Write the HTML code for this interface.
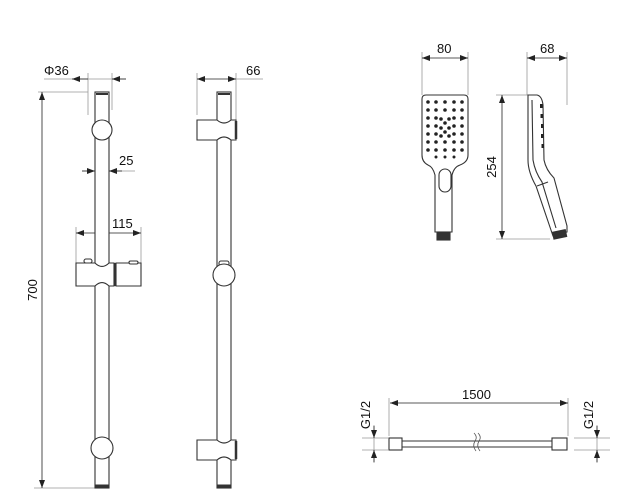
<!DOCTYPE html>
<html><head><style>
html,body{margin:0;padding:0;background:#fff;}
svg{display:block;}
text{font-family:"Liberation Sans",sans-serif;font-size:13px;fill:#111;}
</style></head><body>
<svg width="623" height="504" viewBox="0 0 623 504" xmlns="http://www.w3.org/2000/svg">
<defs>
<marker id="a" markerWidth="8" markerHeight="6" refX="8" refY="3" orient="auto-start-reverse" markerUnits="userSpaceOnUse"><path d="M0,0 L8,3 L0,6 z" fill="#222"/></marker>
</defs>
<g stroke="#999" stroke-width="0.8" fill="none">
<line x1="44" y1="79" x2="126" y2="79"/>
<line x1="88" y1="73" x2="88" y2="115"/>
<line x1="112" y1="73" x2="112" y2="110"/>
<line x1="38" y1="92" x2="88" y2="92"/>
<line x1="34" y1="488" x2="95" y2="488"/>
<line x1="82" y1="171" x2="135" y2="171"/>
<line x1="76" y1="227" x2="76" y2="265"/>
<line x1="141" y1="227" x2="141" y2="265"/>
<line x1="197" y1="73" x2="197" y2="115"/>
<line x1="236" y1="73" x2="236" y2="120"/>
<line x1="236" y1="79" x2="263" y2="79"/>
<line x1="422" y1="52" x2="422" y2="95"/>
<line x1="468" y1="52" x2="468" y2="95"/>
<line x1="527" y1="52" x2="527" y2="95"/>
<line x1="567" y1="52" x2="567" y2="105"/>
<line x1="496" y1="95" x2="530" y2="95"/>
<line x1="496" y1="239" x2="550" y2="239"/>
<line x1="389" y1="398" x2="389" y2="436"/>
<line x1="568" y1="398" x2="568" y2="436"/>
<line x1="362" y1="438" x2="388" y2="438"/>
<line x1="362" y1="450" x2="388" y2="450"/>
<line x1="574" y1="438" x2="610" y2="438"/>
<line x1="574" y1="450" x2="610" y2="450"/>
<line x1="374" y1="425" x2="374" y2="463"/>
<line x1="597" y1="425" x2="597" y2="463"/>
</g>
<g stroke="#222" stroke-width="0.8" fill="none">
<line x1="88" y1="79" x2="72" y2="79" marker-end="url(#a)"/>
<line x1="112" y1="79" x2="126" y2="79" marker-start="url(#a)" />
<line x1="42" y1="92" x2="42" y2="488" marker-start="url(#a)" marker-end="url(#a)"/>
<line x1="82" y1="171" x2="95" y2="171" marker-end="url(#a)"/>
<line x1="122" y1="171" x2="109" y2="171" marker-end="url(#a)"/>
<line x1="76" y1="233" x2="141" y2="233" marker-start="url(#a)" marker-end="url(#a)"/>
<line x1="197" y1="79" x2="236" y2="79" marker-start="url(#a)" marker-end="url(#a)"/>
<line x1="422" y1="58" x2="468" y2="58" marker-start="url(#a)" marker-end="url(#a)"/>
<line x1="527" y1="58" x2="567" y2="58" marker-start="url(#a)" marker-end="url(#a)"/>
<line x1="502" y1="95" x2="502" y2="239" marker-start="url(#a)" marker-end="url(#a)"/>
<line x1="390" y1="403" x2="568" y2="403" marker-start="url(#a)" marker-end="url(#a)"/>
<line x1="374" y1="426" x2="374" y2="438" marker-end="url(#a)"/>
<line x1="374" y1="462" x2="374" y2="450" marker-end="url(#a)"/>
<line x1="597" y1="426" x2="597" y2="438" marker-end="url(#a)"/>
<line x1="597" y1="462" x2="597" y2="450" marker-end="url(#a)"/>
</g>
<g stroke="#333" stroke-width="1.1" fill="#fff">
<rect x="95" y="92" width="14" height="396"/>
<line x1="95" y1="486" x2="109" y2="486" stroke-width="3"/>
<line x1="96" y1="94" x2="108" y2="94" stroke-width="2"/>
<circle cx="102" cy="130" r="10"/>
<circle cx="102" cy="448" r="11"/>
<path d="M76,263 H95 Q102,270 109,263 H114 V286 H109 Q102,279 95,286 H76 Z"/>
<path d="M116,263 H141 V286 H116 Z"/>
<line x1="115" y1="263" x2="115" y2="286" stroke-width="2.5"/>
<rect x="84" y="259" width="8" height="4" rx="2"/>
<rect x="129" y="261" width="9" height="3" rx="1.5"/>
<rect x="217" y="92" width="14" height="396"/>
<line x1="217" y1="486" x2="231" y2="486" stroke-width="3"/>
<line x1="218" y1="94" x2="230" y2="94" stroke-width="2"/>
<path d="M197,120 H217 Q224,126 231,120 H236 V140 H231 Q224,134 217,140 H197 Z"/>
<line x1="236" y1="121" x2="236" y2="139" stroke-width="2.5"/>
<path d="M197,440 H217 Q224,446 231,440 H236 V460 H231 Q224,454 217,460 H197 Z"/>
<line x1="236" y1="441" x2="236" y2="459" stroke-width="2.5"/>
<rect x="219" y="261" width="10" height="5" rx="2"/>
<circle cx="224" cy="275" r="11"/>
<path d="M426,95 H464 Q468,95 468,99 V155 Q468,162 460,165 Q454,167 452,175 V232 H435 V175 Q433,167 428,165 Q422,162 422,155 V99 Q422,95 426,95 Z"/>
<rect x="439" y="169" width="12" height="23" rx="6"/>
<rect x="437" y="232" width="13" height="8" fill="#333"/>
<path d="M528,95 H537 Q542,96 543,105 L544,160 Q546,170 554,178 L567,226 L567,232 L553,236 L536,186 Q528,172 528,160 Z"/>
<path d="M532,100 L533,160 Q535,172 542,182 L556,228"/>
<path d="M537,186 L548,182"/>
<rect x="553" y="231" width="13" height="7" fill="#333" transform="rotate(-12 559 234)"/>
<line x1="402" y1="441" x2="552" y2="441"/>
<line x1="402" y1="447" x2="552" y2="447"/>
<rect x="389" y="438" width="13" height="12"/>
<rect x="552" y="438" width="15" height="12"/>
</g>
<rect x="476" y="441.6" width="4" height="4.8" fill="#fff"/>
<path d="M474,433 Q478,437 475,441 Q472,446 476,451 M478,433 Q482,437 479,441 Q476,446 480,451" stroke="#555" stroke-width="0.8" fill="none"/>
<g fill="#222">
<circle cx="428" cy="102" r="1.8"/><circle cx="436" cy="102" r="1.8"/><circle cx="445" cy="102" r="1.8"/><circle cx="454" cy="102" r="1.8"/><circle cx="462" cy="102" r="1.8"/>
<circle cx="428" cy="110" r="1.8"/><circle cx="436" cy="110" r="1.8"/><circle cx="445" cy="110" r="1.8"/><circle cx="454" cy="110" r="1.8"/><circle cx="462" cy="110" r="1.8"/>
<circle cx="428" cy="118" r="1.8"/><circle cx="436" cy="118" r="1.8"/><circle cx="441" cy="119" r="1.8"/><circle cx="449" cy="119" r="1.8"/><circle cx="454" cy="118" r="1.8"/><circle cx="462" cy="118" r="1.8"/>
<circle cx="428" cy="126" r="1.8"/><circle cx="436" cy="126" r="1.8"/><circle cx="445" cy="123" r="1.8"/><circle cx="441" cy="128" r="1.8"/><circle cx="449" cy="128" r="1.8"/><circle cx="454" cy="126" r="1.8"/><circle cx="462" cy="126" r="1.8"/><circle cx="445" cy="132" r="1.8"/>
<circle cx="428" cy="134" r="1.8"/><circle cx="436" cy="134" r="1.8"/><circle cx="441" cy="136" r="1.8"/><circle cx="449" cy="136" r="1.8"/><circle cx="454" cy="134" r="1.8"/><circle cx="462" cy="134" r="1.8"/>
<circle cx="428" cy="142" r="1.8"/><circle cx="436" cy="142" r="1.8"/><circle cx="445" cy="142" r="1.8"/><circle cx="454" cy="142" r="1.8"/><circle cx="462" cy="142" r="1.8"/>
<circle cx="428" cy="150" r="1.8"/><circle cx="436" cy="150" r="1.8"/><circle cx="445" cy="150" r="1.8"/><circle cx="454" cy="150" r="1.8"/><circle cx="462" cy="150" r="1.8"/>
<circle cx="436" cy="157" r="1.5"/><circle cx="445" cy="157" r="1.5"/><circle cx="454" cy="157" r="1.5"/>
<rect x="540" y="104" width="2.5" height="4"/><rect x="540.5" y="114" width="2.5" height="4"/><rect x="541" y="124" width="2.5" height="4"/><rect x="541" y="134" width="2.5" height="4"/><rect x="541.5" y="144" width="2.5" height="4"/>
</g>
<text x="44" y="75">Φ36</text>
<text x="246" y="75">66</text>
<text x="119" y="165">25</text>
<text x="112" y="228">115</text>
<text x="437" y="53">80</text>
<text x="540" y="53">68</text>
<text x="462" y="399">1500</text>
<text transform="translate(37,290) rotate(-90)" text-anchor="middle">700</text>
<text transform="translate(496,167) rotate(-90)" text-anchor="middle">254</text>
<text transform="translate(370,415) rotate(-90)" text-anchor="middle">G1/2</text>
<text transform="translate(593,415) rotate(-90)" text-anchor="middle">G1/2</text>
</svg>
</body></html>
